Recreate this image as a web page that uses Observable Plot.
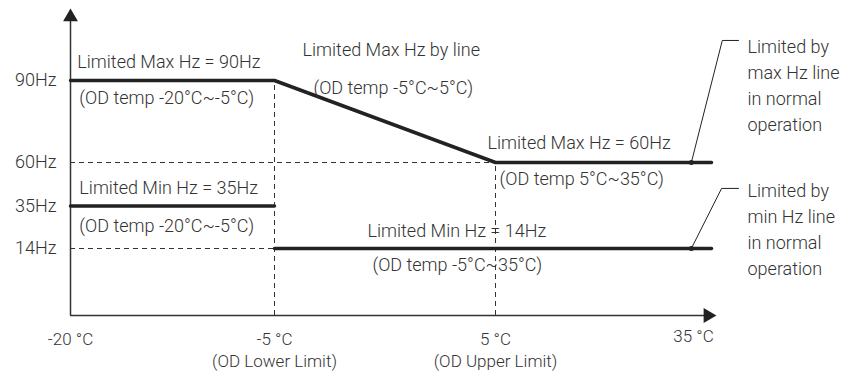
<!DOCTYPE html>
<html>
<head>
<meta charset="utf-8">
<script src="https://cdn.jsdelivr.net/npm/d3@7"></script>
<script src="https://cdn.jsdelivr.net/npm/@observablehq/plot@0.6"></script>
<style>
  html, body { margin: 0; padding: 0; background: #fff; }
  #chart svg { display: block; }
</style>
</head>
<body>
<div id="chart"></div>
<script>
// ---- data ----
const xTicks = [-20, -5, 5];
const xTickLabels = ["-20 °C", "-5 °C\n(OD Lower Limit)", "5 °C\n(OD Upper Limit)"];
const xLastTick = [35];
const xLastTickLabel = ["35 °C"];
const yTicks = [90, 60, 35, 14];
const yTickLabels = ["90Hz", "60Hz", "35Hz", "14Hz"];

// Max Hz limit line
const maxTemp = [-20, -5, 5, 35];
const maxHz = [90, 90, 60, 60];
// Min Hz limit lines (two segments)
const minTempA = [-20, -5];
const minHzA = [35, 35];
const minTempB = [-5, 35];
const minHzB = [14, 14];

// guide (dashed) lines
const guideHzLevels = [60, 14];
const guideHzEnds = [5, -5];
const guideTemps = [-5, 5];
const guideTempTops = [90, 60];

// annotations inside the chart
const annTemp = [-19.5, -19.35, -3.73, -3.24, 4.64, 5.56, -19.35, -19.35, -0.79, -0.57];
const annHz = [96.4, 83.4, 100.7, 87.1, 67.0, 50.2, 45.1, 24.9, 22.4, 10.4];
const annText = [
  "Limited Max Hz = 90Hz",
  "(OD temp -20°C~-5°C)",
  "Limited Max Hz by line",
  "(OD temp -5°C~5°C)",
  "Limited Max Hz = 60Hz",
  "(OD temp 5°C~35°C)",
  "Limited Min Hz = 35Hz",
  "(OD temp -20°C~-5°C)",
  "Limited Min Hz = 14Hz",
  "(OD temp -5°C~35°C)"
];

// callouts on the right
const calloutTemp = [40, 40];
const calloutHz = [106.4, 50.8];
const calloutText = ["Limited by\nmax Hz line\nin normal\noperation", "Limited by\nmin Hz line\nin normal\noperation"];
const leaderMaxTemp = [32.2, 36.5, 38.75];
const leaderMaxHz = [60, 104.3, 104.3];
const leaderMinTemp = [32.2, 36.4, 38.75];
const leaderMinHz = [14, 45.1, 45.1];
const dotTemp = [32.2, 32.2];
const dotHz = [60, 14];

// axes extents
const axisOrigin = {t: -20, hz: 0};
const axisTopHz = 112;
const axisRightTemp = 34.2;
const arrowUp = [{t: -20, hz: 112.7}];
const arrowRight = [{t: 34.5, hz: 0}];

// ---- build tables ----
const zip = (xs, ys) => xs.map((x, i) => ({t: x, hz: ys[i]}));
const maxLine = zip(maxTemp, maxHz);
const minLineA = zip(minTempA, minHzA);
const minLineB = zip(minTempB, minHzB);
const ann = annText.map((s, i) => ({t: annTemp[i], hz: annHz[i], s}));
const callouts = calloutText.map((s, i) => ({t: calloutTemp[i], hz: calloutHz[i], s}));
const leaderMax = zip(leaderMaxTemp, leaderMaxHz);
const leaderMin = zip(leaderMinTemp, leaderMinHz);
const dots = zip(dotTemp, dotHz);
const hGuides = guideHzLevels.map((h, i) => ({hz: h, t2: guideHzEnds[i]}));
const vGuides = guideTemps.map((t, i) => ({t, hz2: guideTempTops[i]}));

const FONT = "Roboto, 'Open Sans', sans-serif";
const TXT = "#333";
const INK = "#222";

const plot = Plot.plot({
  width: 859,
  height: 373,
  marginLeft: 70,
  marginRight: 148,
  marginTop: 10,
  marginBottom: 58,
  style: {fontFamily: FONT, background: "#fff"},
  x: {type: "linear", domain: [-20, -5, 5, 35], range: [70, 274, 495, 711], axis: null},
  y: {type: "linear", domain: [0, 14, 35, 60, 90, 115], range: [315, 248, 205.5, 162, 80, 10], axis: null},
  marks: [
    // dashed guides
    Plot.ruleY(hGuides, {y: "hz", x1: -20, x2: "t2", stroke: TXT, strokeWidth: 1, strokeDasharray: "5,4"}),
    Plot.ruleX(vGuides, {x: "t", y1: 0, y2: "hz2", stroke: TXT, strokeWidth: 1, strokeDasharray: "5,4"}),
    // axes
    Plot.ruleX([axisOrigin], {x: "t", y1: 0, y2: axisTopHz, stroke: "#333", strokeWidth: 1.5}),
    Plot.ruleY([axisOrigin], {y: "hz", x1: -20, x2: axisRightTemp, stroke: "#333", strokeWidth: 1.5}),
    Plot.dot(arrowUp, {x: "t", y: "hz", symbol: "triangle", r: 5.5, fill: INK, stroke: null}),
    Plot.dot(arrowRight, {x: "t", y: "hz", symbol: "triangle", r: 5.5, fill: INK, stroke: null, rotate: 90}),
    // limit lines
    Plot.line(maxLine, {x: "t", y: "hz", stroke: INK, strokeWidth: 3.5, strokeLinejoin: "miter"}),
    Plot.line(minLineA, {x: "t", y: "hz", stroke: INK, strokeWidth: 3.5}),
    Plot.line(minLineB, {x: "t", y: "hz", stroke: INK, strokeWidth: 3.5}),
    // leaders
    Plot.line(leaderMax, {x: "t", y: "hz", stroke: INK, strokeWidth: 1}),
    Plot.line(leaderMin, {x: "t", y: "hz", stroke: INK, strokeWidth: 1}),
    Plot.dot(dots, {x: "t", y: "hz", r: 2.5, fill: INK, stroke: null}),
    // tick labels
    Plot.text(yTicks, {y: d => d, frameAnchor: "left", textAnchor: "end", dx: -14,
      text: (d, i) => yTickLabels[i], fontSize: 18, fontWeight: 300, fill: TXT}),
    Plot.text(xTicks, {x: d => d, frameAnchor: "bottom", lineAnchor: "top", dy: 14,
      text: (d, i) => xTickLabels[i], fontSize: 17, fontWeight: 300, lineHeight: 1.3, fill: TXT}),
    Plot.text(xLastTick, {x: d => d, frameAnchor: "bottom", lineAnchor: "top", dy: 14, dx: -18,
      text: (d, i) => xLastTickLabel[i], fontSize: 17, fontWeight: 300, fill: TXT}),
    // annotations
    Plot.text(ann, {x: "t", y: "hz", text: "s", textAnchor: "start", fontSize: 18, fontWeight: 300, fill: TXT}),
    Plot.text(callouts, {x: "t", y: "hz", text: "s", textAnchor: "start", lineAnchor: "top",
      lineHeight: 1.45, fontSize: 18, fontWeight: 300, fill: TXT})
  ]
});
document.getElementById("chart").appendChild(plot);
</script>
</body>
</html>
